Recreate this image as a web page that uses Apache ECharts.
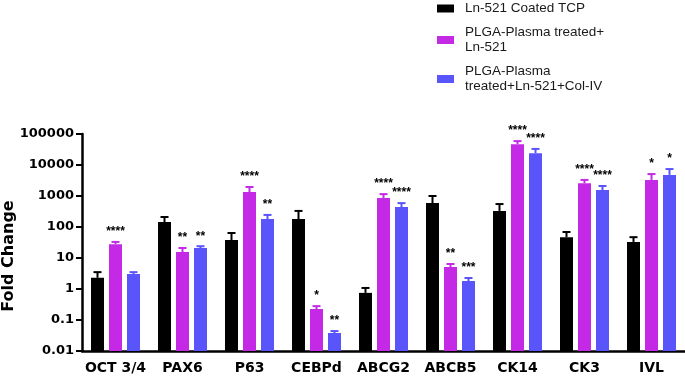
<!DOCTYPE html>
<html>
<head>
<meta charset="utf-8">
<script src="https://cdn.jsdelivr.net/npm/echarts@6/dist/echarts.min.js"></script>
<style>
  html, body { margin: 0; padding: 0; background: #fff; }
  #chart { width: 685px; height: 378px; }
</style>
</head>
<body>
<div id="chart"></div>
<script>
const categories = ['OCT 3/4', 'PAX6', 'P63', 'CEBPd', 'ABCG2', 'ABCB5', 'CK14', 'CK3', 'IVL']
const yTickLabels = ['0.01', '0.1', '1', '10', '100', '1000', '10000', '100000']
const yTitle = 'Fold Change'

const tcpMean = [2.3, 145, 38, 180, 0.75, 590, 330, 47, 33]
const tcpUpper = [3.5, 210, 64, 330, 1.08, 1000, 550, 69, 47]
const plgaMean = [28, 15.6, 1350, 0.226, 865, 5.1, 47000, 2600, 3300]
const plgaUpper = [33, 21, 1950, 0.28, 1150, 6.4, 59000, 3300, 5100]
const colMean = [3.05, 21, 180, 0.038, 440, 1.8, 24000, 1560, 4800]
const colUpper = [3.5, 24, 245, 0.044, 590, 2.26, 33000, 2100, 7400]

const tcpStars = ['', '', '', '', '', '', '', '', '']
const plgaStars = ['****', '**', '****', '*', '****', '**', '****', '****', '*']
const colStars = ['', '**', '**', '**', '****', '***', '****', '****', '*']

const names = ['Ln-521 Coated TCP', 'PLGA-Plasma treated+\nLn-521', 'PLGA-Plasma\ntreated+Ln-521+Col-IV']
const colors = ['#000000', '#c42ae6', '#5a54fb']

let makeRender = (offset, color, stars) => {
  return function (params, api) {
    var i = api.value(0)
    var base = api.coord([i, 0.01])
    var top = api.coord([i, api.value(1)])
    var cap = api.coord([i, api.value(2)])
    var x = base[0] + offset
    var w = 13
    var children = [
      { type: 'rect', shape: { x: x - w / 2, y: top[1], width: w, height: base[1] - top[1] }, style: { fill: color } },
      { type: 'line', shape: { x1: x, y1: top[1], x2: x, y2: cap[1] }, style: { stroke: color, lineWidth: 2 } },
      { type: 'line', shape: { x1: x - 4, y1: cap[1], x2: x + 4, y2: cap[1] }, style: { stroke: color, lineWidth: 2 } }
    ]
    if (stars[i]) {
      children.push({
        type: 'text',
        style: { text: stars[i], x: x, y: cap[1] - 4, align: 'center', verticalAlign: 'bottom', font: 'bold 12px "Liberation Sans"', fill: '#000' }
      })
    }
    return { type: 'group', children: children }
  }
}

let build = (mean, upper) => mean.map((v, i) => [i, v, upper[i]])

var Chart = echarts.init(document.getElementById('chart'))
var option = {
  animation: false,
  graphic: [
    {
      type: 'text',
      x: 9,
      y: 256,
      rotation: Math.PI / 2,
      style: { text: yTitle, fill: '#000', font: 'bold 16px "DejaVu Sans"', align: 'center', verticalAlign: 'middle' }
    }
  ],
  legend: {
    orient: 'vertical',
    left: 432,
    top: -4,
    itemWidth: 17,
    itemHeight: 8,
    itemGap: 9,
    icon: 'rect',
    data: names,
    textStyle: {
      fontFamily: 'Liberation Sans',
      fontSize: 13.5,
      lineHeight: 15,
      color: '#1a1a1a',
      padding: [0, 0, 0, 6]
    }
  },
  grid: {
    left: 82,
    right: 0,
    top: 134,
    bottom: 27,
    containLabel: false,
    outerBoundsMode: 'none'
  },
  xAxis: {
    type: 'category',
    data: categories,
    axisLine: { lineStyle: { color: '#000', width: 2.5 } },
    axisTick: { alignWithLabel: true, length: 6, lineStyle: { color: '#000', width: 2 } },
    axisLabel: { interval: 0, color: '#000', fontFamily: 'DejaVu Sans', fontWeight: 'bold', fontSize: 14, margin: 10 }
  },
  yAxis: {
    type: 'log',
    logBase: 10,
    min: 0.01,
    max: 100000,
    axisLine: { show: true, lineStyle: { color: '#000', width: 2.5 } },
    axisTick: { show: true, length: 6, lineStyle: { color: '#000', width: 2 } },
    splitLine: { show: false },
    axisLabel: {
      color: '#000', fontFamily: 'DejaVu Sans', fontWeight: 'bold', fontSize: 13, margin: 8,
      formatter: v => yTickLabels[Math.round(Math.log10(v)) + 2]
    }
  },
  series: [
    { name: names[0], type: 'custom', itemStyle: { color: colors[0] }, renderItem: makeRender(-18, colors[0], tcpStars), data: build(tcpMean, tcpUpper), encode: { x: 0, y: [1, 2] } },
    { name: names[1], type: 'custom', itemStyle: { color: colors[1] }, renderItem: makeRender(0, colors[1], plgaStars), data: build(plgaMean, plgaUpper), encode: { x: 0, y: [1, 2] } },
    { name: names[2], type: 'custom', itemStyle: { color: colors[2] }, renderItem: makeRender(18, colors[2], colStars), data: build(colMean, colUpper), encode: { x: 0, y: [1, 2] } }
  ]
}
Chart.setOption(option)
</script>
</body>
</html>
